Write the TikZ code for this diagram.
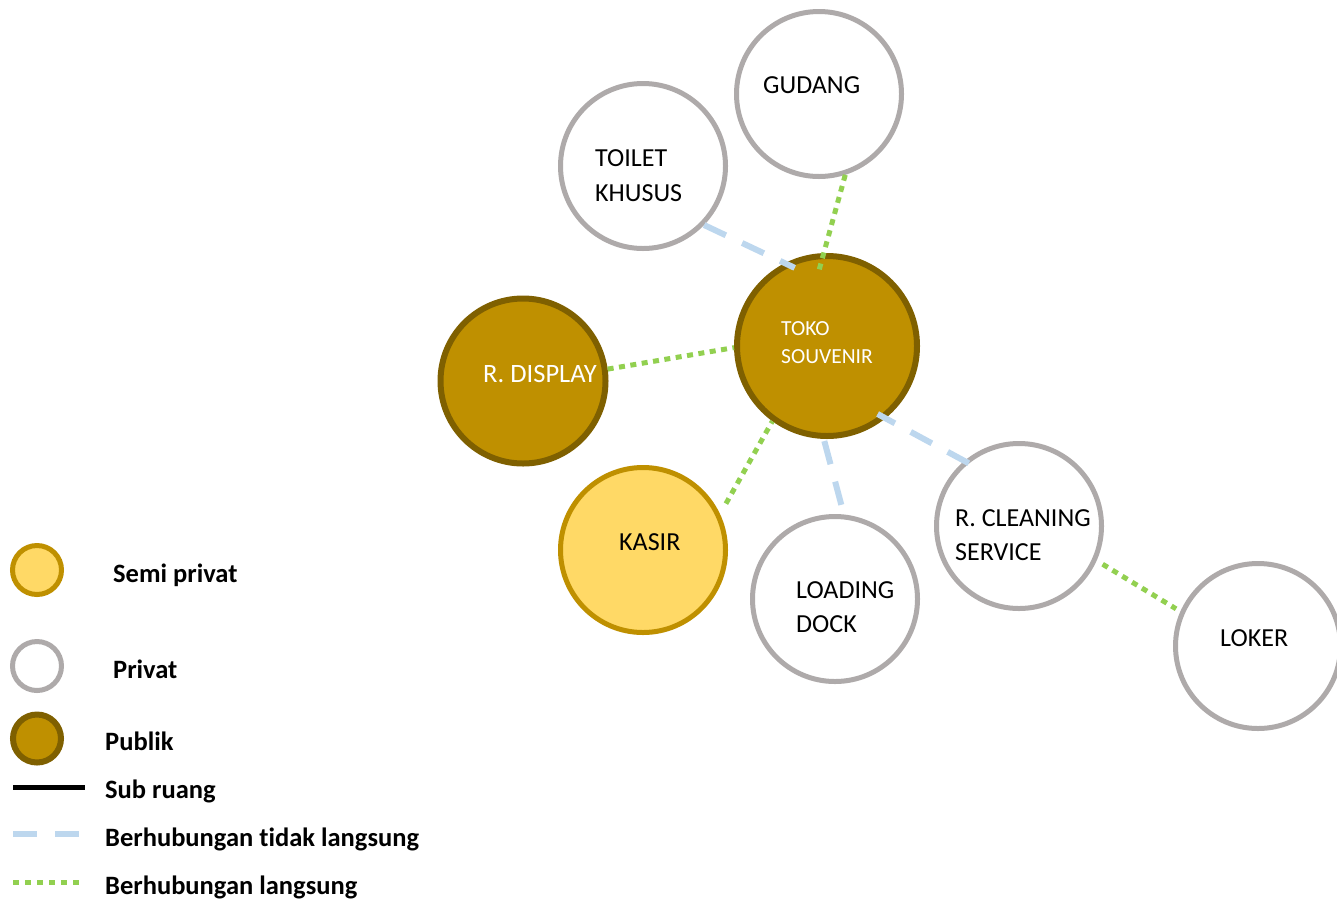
\documentclass[tikz,border=0pt]{standalone}
\usepackage{fontspec}
\setmainfont{Carlito}[Ligatures={NoCommon}]
\usepackage{tikz}
\definecolor{publikisi}{RGB}{191,144,0}
\definecolor{publikgaris}{RGB}{127,96,0}
\definecolor{semiisi}{RGB}{255,217,102}
\definecolor{semigaris}{RGB}{191,144,0}
\definecolor{privatgaris}{RGB}{174,170,170}
\definecolor{tidaklangsung}{RGB}{189,215,238}
\definecolor{langsung}{RGB}{146,208,80}

\begin{document}
\begin{tikzpicture}[
  x=1pt, y=-1pt,
  ruang/.style={circle, minimum size=165pt, inner sep=0pt, line width=5pt},
  privat/.style={ruang, draw=privatgaris, fill=white},
  semi/.style={ruang, draw=semigaris, fill=semiisi},
  publik/.style={ruang, draw=publikgaris, fill=publikisi, line width=6pt},
  nama/.style={anchor=north west, inner sep=0pt, align=left, font=\fontsize{26}{35}\selectfont},
  ket/.style={anchor=base west, inner sep=0pt, font=\fontsize{26.5}{30}\selectfont\bfseries},
  tdk/.style={draw=tidaklangsung, line width=6pt, dash pattern=on 24pt off 18pt},
  lgs/.style={draw=langsung, line width=5pt, dash pattern=on 6pt off 5.5pt}
]
  \useasboundingbox (0,0) rectangle (1337,903);
  \clip (0,0) rectangle (1337,903);

  % ruang
  \node[privat] (gudang) at (819,94) {};
  \node[privat] (toilet) at (643,166) {};
  \node[publik, minimum size=180pt] (toko) at (827,346) {};
  \node[publik] (display) at (523,381) {};
  \node[semi] (kasir) at (643,550) {};
  \node[privat] (loading) at (835,599) {};
  \node[privat] (cleaning) at (1019,526) {};
  \node[privat] (loker) at (1258,646) {};

  % hubungan
  \draw[tdk, shorten >=-11pt] (toilet.-44.5) -- (toko.117);
  \draw[lgs, shorten >=-20pt] (gudang.-72) -- (toko.92);
  \draw[lgs] (display.8) -- (toko.181);
  \draw[lgs, shorten <=12pt] (kasir.25.5) -- (toko.234);
  \draw[tdk, shorten <=10pt] (loading.84) -- (toko.268);
  \draw[tdk, shorten <=-5pt, shorten >=-9pt] (cleaning.130) -- (toko.-51);
  \draw[lgs, shorten <=7pt, shorten >=5pt] (cleaning.-24) -- (loker.156);

  % nama ruang
  \node[nama] (tgudang) at (763,76) {GUDANG};
  \node[nama] (ttoilet) at (595,149) {TOILET\\KHUSUS};
  \node[nama, text=white, font=\fontsize{21.5}{28}\selectfont] (ttoko) at (781,321) {TOKO\\SOUVENIR};
  \node[nama, text=white, font=\fontsize{26.5}{35}\selectfont] (tdisplay) at (483,365) {R. DISPLAY};
  \node[nama] (tkasir) at (619,533) {KASIR};
  \node[nama, font=\fontsize{26}{34.5}\selectfont] (tloading) at (796,581) {LOADING\\DOCK};
  \node[nama, font=\fontsize{26}{34.5}\selectfont] (tcleaning) at (955,509) {R. CLEANING\\SERVICE};
  \node[nama] (tloker) at (1220,629) {LOKER};

  % keterangan
  \node[semi, minimum size=49pt] (ksemi) at (37,570) {};
  \node[privat, minimum size=49pt] (kprivat) at (37,666) {};
  \node[publik, minimum size=48pt] (kpublik) at (37,738.5) {};
  \draw[line width=5pt] (13,787) -- (85,787);
  \draw[tdk] (13,834) -- (79,834);
  \draw[lgs, dash pattern=on 6pt off 6pt] (13,882) -- (79,882);
  \node[ket] (tsemi) at (113,582) {Semi privat};
  \node[ket] (tprivat) at (113,678) {Privat};
  \node[ket] (tpublik) at (105,750) {Publik};
  \node[ket] (tsub) at (105,798) {Sub ruang};
  \node[ket] (ttidak) at (105,846) {Berhubungan tidak langsung};
  \node[ket] (tlangsung) at (105,894) {Berhubungan langsung};
\end{tikzpicture}
\end{document}
